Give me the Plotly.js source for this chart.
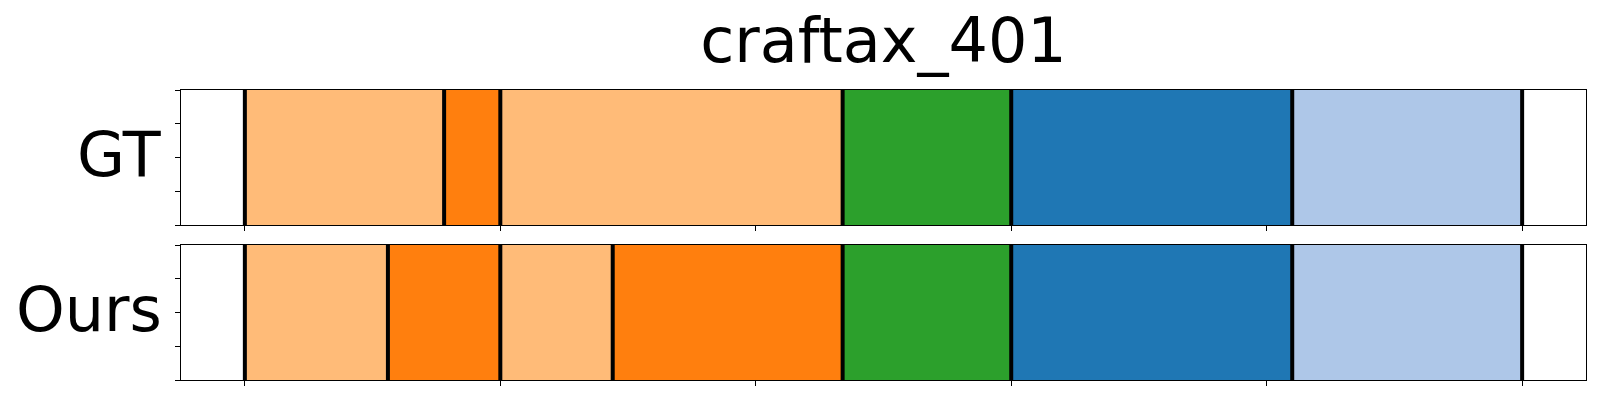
<!DOCTYPE html>
<html>
<head>
<meta charset="utf-8">
<script src="https://cdn.plot.ly/plotly-3.0.1.min.js"></script>
<style>html,body{margin:0;padding:0;background:#fff;}#chart{width:1600px;height:400px;}</style>
</head>
<body>
<div id="chart"></div>
<script>
// ---- data ----
const chartTitle = 'craftax_401';
const rowLabels = ['GT', 'Ours'];
// segment boundaries (time steps) for each row
const gtBounds   = [0, 39, 50, 117, 150, 205, 250];
const oursBounds = [0, 28, 50, 72, 117, 150, 205, 250];
// class of each segment (index into palette)
const gtClasses   = [0, 1, 0, 2, 3, 4];
const oursClasses = [0, 1, 0, 1, 2, 3, 4];
const palette = ['#ffbb78', '#ff7f0e', '#2ca02c', '#1f77b4', '#aec7e8'];
const xTicks = [0, 50, 100, 150, 200, 250];

// ---- build traces ----
function segTrace(bounds, classes, xa, ya) {
  const base = [], len = [], ys = [], cols = [];
  for (let i = 0; i < classes.length; i++) {
    base.push(bounds[i]);
    len.push(bounds[i + 1] - bounds[i]);
    ys.push(0.5);
    cols.push(palette[classes[i]]);
  }
  return {
    type: 'bar', orientation: 'h', base: base, x: len, y: ys, width: 1,
    marker: {color: cols, line: {width: 0}},
    xaxis: xa, yaxis: ya, showlegend: false, hoverinfo: 'skip'
  };
}
function boundTrace(bounds, xa, ya) {
  const xs = [], ys = [];
  bounds.forEach(b => { xs.push(b, b, null); ys.push(0, 1, null); });
  return {
    type: 'scatter', mode: 'lines', x: xs, y: ys,
    line: {color: '#000', width: 4},
    xaxis: xa, yaxis: ya, showlegend: false, hoverinfo: 'skip'
  };
}

const traces = [
  segTrace(gtBounds, gtClasses, 'x', 'y'),
  boundTrace(gtBounds, 'x', 'y'),
  segTrace(oursBounds, oursClasses, 'x2', 'y2'),
  boundTrace(oursBounds, 'x2', 'y2')
];

const span = xTicks[xTicks.length - 1] - xTicks[0];
const xr = [xTicks[0] - 0.05 * span, xTicks[xTicks.length - 1] + 0.05 * span];

const xAxisBase = {
  range: xr, tickvals: xTicks, showticklabels: false, ticks: 'outside',
  ticklen: 5, tickwidth: 1, tickcolor: '#000', showline: true, linecolor: '#000',
  linewidth: 1, mirror: true, showgrid: false, zeroline: false, fixedrange: true
};
const yAxisBase = {
  range: [0, 1], tickvals: [0, 0.25, 0.5, 0.75, 1], showticklabels: false,
  ticks: 'outside', ticklen: 5, tickwidth: 1, tickcolor: '#000', showline: true,
  linecolor: '#000', linewidth: 1, mirror: true, showgrid: false, zeroline: false,
  fixedrange: true
};

const labelFont = {size: 62, family: 'DejaVu Sans', color: '#000'};
const layout = {
  width: 1600, height: 400,
  margin: {l: 181, r: 14, t: 90, b: 20},
  paper_bgcolor: '#fff', plot_bgcolor: '#fff',
  font: {family: 'DejaVu Sans', color: '#000'},
  barmode: 'overlay', bargap: 0,
  title: {text: chartTitle, font: {size: 62, family: 'DejaVu Sans', color: '#000'},
          x: 0.5, xref: 'paper', xanchor: 'center', y: 0.9, yref: 'container', yanchor: 'middle'},
  xaxis: Object.assign({}, xAxisBase, {anchor: 'y', domain: [0, 1]}),
  yaxis: Object.assign({}, yAxisBase, {anchor: 'x', domain: [0.5345, 1]}),
  xaxis2: Object.assign({}, xAxisBase, {anchor: 'y2', domain: [0, 1]}),
  yaxis2: Object.assign({}, yAxisBase, {anchor: 'x2', domain: [0, 0.4655]}),
  annotations: [
    {text: rowLabels[0], xref: 'paper', yref: 'y domain', x: -0.012, y: 0.5,
     xanchor: 'right', yanchor: 'middle', showarrow: false, yshift: 3, font: labelFont},
    {text: rowLabels[1], xref: 'paper', yref: 'y2 domain', x: -0.012, y: 0.5,
     xanchor: 'right', yanchor: 'middle', showarrow: false, yshift: 3, font: labelFont}
  ]
};

Plotly.newPlot('chart', traces, layout, {staticPlot: true, displayModeBar: false});
</script>
</body>
</html>
